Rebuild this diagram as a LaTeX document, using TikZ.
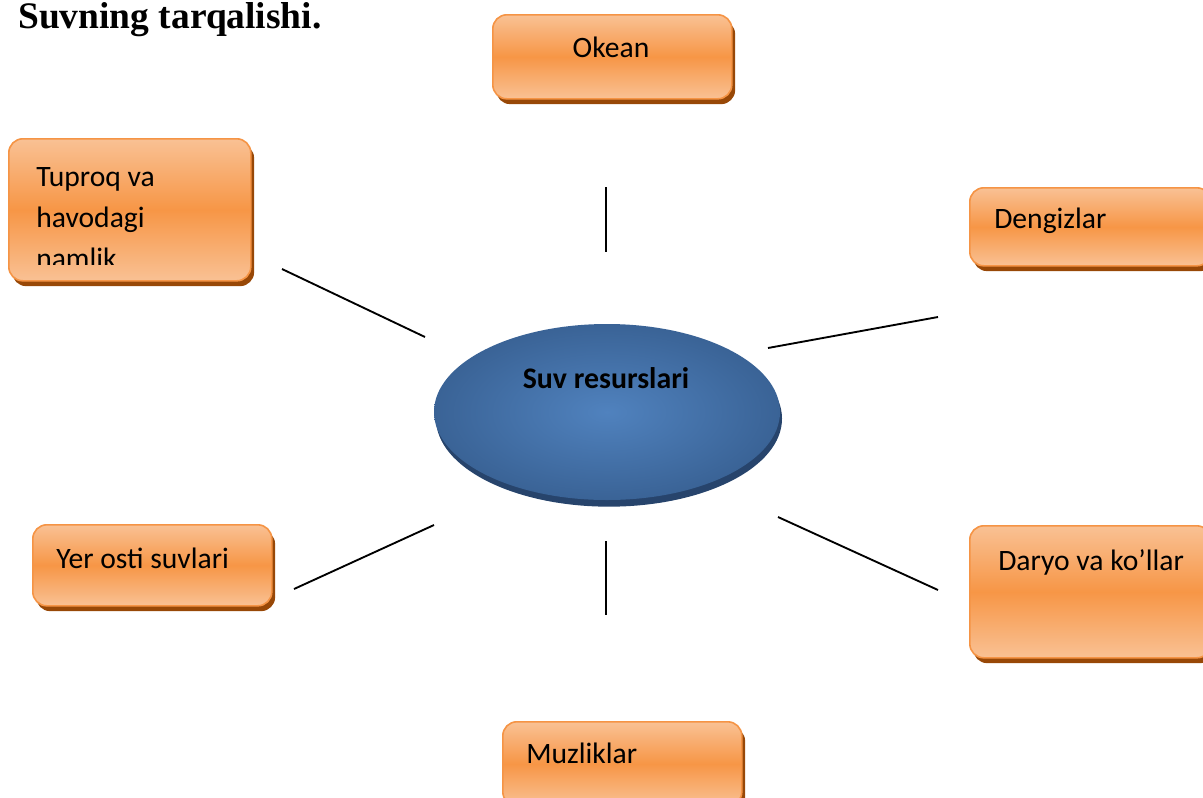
\documentclass[tikz,border=0pt]{standalone}
\usepackage{fontspec}
\setmainfont{Carlito}
\newfontfamily\titlefont{Liberation Serif}
\usetikzlibrary{shapes.geometric,shadows}
\definecolor{olight}{HTML}{F9C194}
\definecolor{omid}{HTML}{F79646}
\definecolor{oborder}{HTML}{F59445}
\definecolor{obrown}{HTML}{984807}
\definecolor{blin}{HTML}{5082BE}
\definecolor{blout}{HTML}{3A6396}
\definecolor{blshadow}{HTML}{27446C}
\pgfdeclareverticalshading{obar}{100bp}{color(0bp)=(olight); color(25bp)=(olight); color(50bp)=(omid); color(75bp)=(olight); color(100bp)=(olight)}
\begin{document}
\begin{tikzpicture}[x=0.75pt,y=-0.75pt,
  obox/.style={draw=oborder, line width=1.2pt, rounded corners=10.5pt, shading=obar,
    anchor=north west, inner sep=0pt,
    drop shadow={shadow xshift=2.5pt, shadow yshift=-4pt, fill=obrown, opacity=1}},
  otext/.style={font=\fontsize{22.2}{30.75}\selectfont, anchor=base west, inner sep=0pt, align=left},
  conn/.style={line width=1.4pt, line cap=butt}]
\useasboundingbox (0,0) rectangle (1203,797);
\clip (0,0) rectangle (1203,797);

% title
\node[anchor=base west, inner sep=0pt, font=\titlefont\bfseries\fontsize{28.1}{32}\selectfont] (title) at (18,28) {Suvning tarqalishi.};

% boxes
\node[obox, minimum width=179.25pt, minimum height=63pt] (okean) at (492,14) {};
\node[obox, minimum width=181.5pt, minimum height=106.5pt] (tuproq) at (8,138) {};
\node[obox, minimum width=180.75pt, minimum height=58.5pt] (dengiz) at (969,187) {};
\node[obox, minimum width=180.75pt, minimum height=99pt] (daryo) at (969,525) {};
\node[obox, minimum width=179.25pt, minimum height=60.75pt] (yer) at (32,524) {};
\node[obox, minimum width=179.25pt, minimum height=63pt] (muz) at (502,721) {};

% box texts
\node[otext, anchor=base] (tokean) at (611,57) {Okean};
\begin{scope}
\clip (8,138) rectangle (250,264);
\node[otext] (ttuproq) at (36,268) {Tuproq va\\havodagi\\namlik};
\end{scope}
\node[otext] (tdengiz) at (994,228) {Dengizlar};
\node[otext] (tdaryo) at (998,570) {Daryo va ko’llar};
\node[otext] (tyer) at (56,568) {Yer osti suvlari};
\node[otext] (tmuz) at (526,763) {Muzliklar};

% centre ellipse
\node[ellipse, inner sep=0pt, minimum width=259.5pt, minimum height=132pt,
  inner color=blin, outer color=blout,
  drop shadow={shadow xshift=1.5pt, shadow yshift=-5pt, fill=blshadow, opacity=1}] (suv) at (607,412) {};
\node[anchor=base, inner sep=0pt, font=\bfseries\fontsize{22.4}{30}\selectfont] (tsuv) at (606,388) {Suv resurslari};

% connector end points
\coordinate (a1) at (606,187); \coordinate (a2) at (606,252);
\coordinate (b1) at (282,269); \coordinate (b2) at (425,337);
\coordinate (c1) at (768,348); \coordinate (c2) at (938,317);
\coordinate (d1) at (434,525); \coordinate (d2) at (294,589);
\coordinate (e1) at (606,541); \coordinate (e2) at (606,615);
\coordinate (f1) at (778,517); \coordinate (f2) at (938,590);
\draw[conn] (a1) -- (a2);
\draw[conn] (b1) -- (b2);
\draw[conn] (c1) -- (c2);
\draw[conn] (d1) -- (d2);
\draw[conn] (e1) -- (e2);
\draw[conn] (f1) -- (f2);
\end{tikzpicture}
\end{document}
